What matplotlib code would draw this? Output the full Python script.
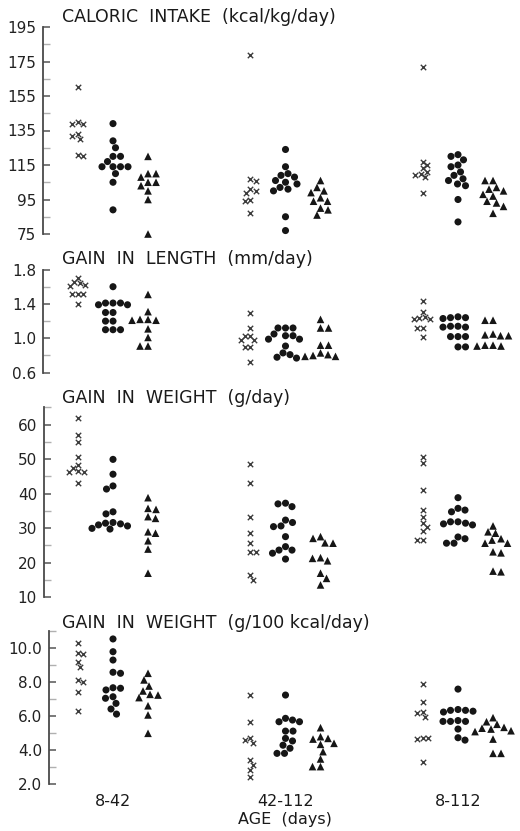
import numpy as np
import matplotlib
matplotlib.use("Agg")
import matplotlib.pyplot as plt
from matplotlib.ticker import FixedLocator, FixedFormatter

plt.rcParams['font.family'] = ['DejaVu Sans']

# ---- data -------------------------------------------------------------
age_groups = ["8-42", "42-112", "8-112"]

# caloric intake (kcal/kg/day); one list per age group
intake_cross = [[160, 140, 139, 139, 133, 132, 130, 121, 120],
                [179, 107, 106, 101, 100, 99, 95, 94, 87],
                [172, 117, 115, 113, 111, 110, 109, 108, 99]]
intake_dot = [[139, 129, 125, 120, 120, 117, 114, 114, 114, 114, 110, 105, 89],
              [124, 114, 110, 109, 108, 106, 105, 104, 102, 101, 100, 85, 77],
              [121, 120, 118, 115, 114, 111, 109, 107, 106, 104, 103, 95, 82]]
intake_tri = [[120, 110, 110, 108, 105, 105, 103, 100, 95, 75],
              [106, 102, 100, 99, 96, 94, 94, 90, 89, 86],
              [106, 106, 102, 101, 100, 98, 97, 94, 93, 91, 87]]

# gain in length (mm/day)
length_cross = [[1.70, 1.65, 1.62, 1.64, 1.61, 1.51, 1.51, 1.51, 1.40],
                [1.30, 1.12, 1.03, 1.03, 0.98, 0.98, 0.90, 0.90, 0.73],
                [1.43, 1.31, 1.22, 1.24, 1.25, 1.22, 1.12, 1.12, 1.01]]
length_dot = [[1.60, 1.41, 1.41, 1.41, 1.39, 1.39, 1.30, 1.30, 1.20, 1.20, 1.10, 1.10, 1.10],
              [1.12, 1.12, 1.12, 1.05, 1.03, 1.03, 0.99, 0.99, 0.91, 0.83, 0.81, 0.78, 0.77],
              [1.25, 1.24, 1.24, 1.23, 1.14, 1.14, 1.13, 1.13, 1.02, 1.02, 1.02, 0.90, 0.90]]
length_tri = [[1.51, 1.31, 1.22, 1.22, 1.21, 1.21, 1.11, 1.01, 0.91, 0.91],
              [1.22, 1.12, 1.12, 0.92, 0.92, 0.83, 0.81, 0.80, 0.79, 0.79],
              [1.21, 1.21, 1.05, 1.04, 1.03, 1.03, 0.92, 0.92, 0.91, 0.91]]

# gain in weight (g/day)
weight_cross = [[62, 57, 55, 50.5, 48.3, 47.3, 46.6, 46.3, 46.1, 43],
                [48.6, 43.0, 33.3, 28.6, 25.6, 23.1, 23.1, 16.3, 14.9],
                [50.5, 48.8, 41.0, 35.2, 33.3, 31.4, 30.4, 29.2, 26.5, 26.5]]
weight_dot = [[49.9, 45.6, 42.2, 41.3, 34.7, 34.1, 31.6, 31.4, 31.2, 30.9, 30.6, 29.9, 29.7],
              [37.2, 37.0, 36.2, 32.3, 31.6, 30.6, 30.4, 27.5, 24.6, 23.6, 23.6, 22.7, 21.0],
              [38.8, 35.7, 35.2, 34.7, 31.8, 31.8, 31.4, 31.2, 30.9, 27.4, 26.9, 25.6, 25.6]]
weight_tri = [[38.8, 35.7, 35.4, 33.3, 32.8, 28.9, 28.5, 26.3, 23.9, 16.9],
              [27.5, 27.0, 25.7, 25.6, 21.4, 21.2, 20.5, 16.9, 15.4, 13.5],
              [30.6, 28.9, 28.5, 26.9, 26.5, 25.6, 25.6, 23.1, 22.8, 17.5, 17.3]]

# gain in weight per energy intake (g/100 kcal/day)
eff_cross = [[10.3, 9.7, 9.65, 9.2, 8.9, 8.14, 8.04, 7.41, 6.31],
             [7.25, 5.68, 4.75, 4.6, 4.45, 3.43, 3.14, 2.85, 2.45],
             [7.88, 6.86, 6.27, 6.18, 5.98, 4.74, 4.7, 4.66, 3.29]]
eff_dot = [[10.55, 9.8, 9.31, 8.59, 8.53, 7.68, 7.65, 7.55, 7.15, 7.06, 6.76, 6.43, 6.13],
           [7.25, 5.88, 5.78, 5.68, 5.68, 5.13, 5.13, 4.7, 4.55, 4.3, 4.12, 3.82, 3.82],
           [7.6, 6.4, 6.35, 6.35, 6.3, 6.25, 5.75, 5.7, 5.7, 5.7, 5.25, 4.74, 4.6]]
eff_tri = [[8.53, 8.14, 7.78, 7.49, 7.29, 7.25, 7.1, 6.62, 6.08, 5.0],
           [5.33, 4.8, 4.7, 4.66, 4.41, 4.35, 3.92, 3.49, 3.04, 3.04],
           [5.92, 5.68, 5.53, 5.35, 5.3, 5.25, 5.15, 5.1, 4.66, 3.82, 3.82]]

panel_titles = ["CALORIC  INTAKE  (kcal/kg/day)",
                "GAIN  IN  LENGTH  (mm/day)",
                "GAIN  IN  WEIGHT  (g/day)",
                "GAIN  IN  WEIGHT  (g/100 kcal/day)"]
major_ticks = [[75, 95, 115, 135, 155, 175, 195],
               [0.6, 1.0, 1.4, 1.8],
               [10, 20, 30, 40, 50, 60],
               [2, 4, 6, 8, 10]]
major_labels = [["75", "95", "115", "135", "155", "175", "195"],
                ["0.6", "1.0", "1.4", "1.8"],
                ["10", "20", "30", "40", "50", "60"],
                ["2.0", "4.0", "6.0", "8.0", "10.0"]]
minor_ticks = [[85, 105, 125, 145, 165, 185],
               [0.8, 1.2, 1.6],
               [15, 25, 35, 45, 55, 65],
               [3, 5, 7, 9, 11]]
y_limits = [(75, 195), (0.6, 1.8), (10, 65), (2, 11)]

# ---- layout (pixels) --------------------------------------------------
W, H = 520, 831
DPI = 100
fig = plt.figure(figsize=(W / DPI, H / DPI), dpi=DPI)
fig.patch.set_facecolor("white")

# (left spine x, top y, bottom y) of each panel in pixels
frames = [(43, 27, 234), (43, 269.5, 372.7), (44, 407.3, 597), (49, 631.3, 784.3)]
title_y = [17, 259, 398, 623]

col_px0 = 113.0     # pixel x of the middle column of the first age group
group_px = 172.5    # pixel distance between age groups
series_shift = 0.203  # column offset of the side series, in group units

ink = "#161616"
cross_ink = "#3c3c3c"


def swarm_x(ax, xc, values, diam):
    """Place points of one column side by side (beeswarm) in display space."""
    pts = ax.transData.transform(np.column_stack([np.full(len(values), xc), values]))
    x0 = pts[0, 0]
    ys = pts[:, 1]
    order = np.argsort(-ys, kind="stable")
    placed = []
    xs = np.empty(len(values))
    for n, i in enumerate(order):
        y = ys[i]
        best = 0.0
        for k in range(0, 200):
            cands = [0.0] if k == 0 else ([k * 0.5, -k * 0.5] if n % 2 == 0 else [-k * 0.5, k * 0.5])
            found = None
            for off in cands:
                if all((off - px) ** 2 + (y - py) ** 2 >= diam ** 2 for px, py in placed):
                    found = off
                    break
            if found is not None:
                best = found
                break
        placed.append((best, y))
        xs[i] = x0 + best
    back = ax.transData.inverted().transform(np.column_stack([xs, ys]))
    return back[:, 0]


panels = [(intake_cross, intake_dot, intake_tri),
          (length_cross, length_dot, length_tri),
          (weight_cross, weight_dot, weight_tri),
          (eff_cross, eff_dot, eff_tri)]

axes = []
for p, (left_px, top_px, bot_px) in enumerate(frames):
    ax = fig.add_axes([left_px / W, 1 - bot_px / H, (W - left_px) / W, (bot_px - top_px) / H])
    ax.set_facecolor("none")
    x_left = (left_px - col_px0) / group_px
    x_right = (W - col_px0) / group_px
    ax.set_xlim(x_left, x_right)
    ax.set_ylim(*y_limits[p])
    for side in ("top", "right", "bottom"):
        ax.spines[side].set_visible(False)
    ax.spines["left"].set_color("#4a4a4a")
    ax.spines["left"].set_linewidth(1.3)
    ax.set_xticks([])
    ax.yaxis.set_major_locator(FixedLocator(major_ticks[p]))
    ax.yaxis.set_major_formatter(FixedFormatter(major_labels[p]))
    ax.yaxis.set_minor_locator(FixedLocator(minor_ticks[p]))
    ax.tick_params(axis="y", which="major", direction="in", length=5, width=1.1,
                   color="#555555", labelsize=11, labelcolor="#222222", pad=5)
    ax.tick_params(axis="y", which="minor", direction="in", length=5, width=1.0,
                   color="#b0b0b0")

    cross, dot, tri = panels[p]
    for g in range(len(age_groups)):
        xc = swarm_x(ax, g - series_shift, cross[g], 5.5)
        ax.scatter(xc, cross[g], marker="x", s=15, linewidths=1.0, color=cross_ink,
                   clip_on=False, zorder=3)
        xd = swarm_x(ax, g, dot[g], 7.2)
        ax.scatter(xd, dot[g], marker="o", s=26, color=ink, edgecolors="none",
                   clip_on=False, zorder=3)
        xt = swarm_x(ax, g + series_shift, tri[g], 7.6)
        ax.scatter(xt, tri[g], marker="^", s=30, color=ink, edgecolors="none",
                   clip_on=False, zorder=3)

    fig.text(62 / W, 1 - title_y[p] / H, panel_titles[p], ha="left", va="center",
             fontsize=12.5, color="#1a1a1a")
    axes.append(ax)

# age-group labels and axis title under the bottom panel
ax_b = axes[-1]
ax_b.set_xticks(range(len(age_groups)))
ax_b.set_xticklabels(age_groups)
ax_b.tick_params(axis="x", length=0, pad=7, labelsize=11.5, labelcolor="#1a1a1a")
ax_b.set_xlabel("AGE  (days)", fontsize=11.5, color="#1a1a1a", labelpad=2)

fig.savefig("out.png", dpi=DPI, facecolor="white")
